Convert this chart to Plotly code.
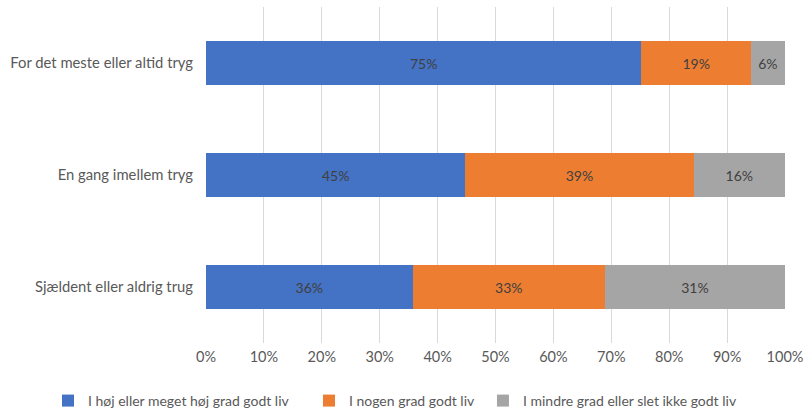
import plotly.graph_objects as go

# ---------------------------------------------------------------------------
# Data
# ---------------------------------------------------------------------------
categories = [
    "For det meste eller altid tryg",
    "En gang imellem tryg",
    "Sjældent eller aldrig trug",
]
series_names = [
    "I høj eller meget høj grad godt liv",
    "I nogen grad godt liv",
    "I mindre grad eller slet ikke godt liv",
]
high = [75.2, 44.8, 35.7]
some = [18.9, 39.4, 33.2]
low = [5.9, 15.8, 31.1]
tick_vals = [0, 10, 20, 30, 40, 50, 60, 70, 80, 90, 100]
tick_text = [f"{v}%" for v in tick_vals]

_COLORS = ["#4472C4", "#ED7D31", "#A5A5A5"]
_TEXT = "#404040"
_AXIS_TEXT = "#595959"
_GRID = "#D9D9D9"
_FONT = "Lato, Liberation Sans, sans-serif"

# one legend per series so the row can be wider than the plot area
_LEGENDS = ["legend", "legend2", "legend3"]
_LEGEND_X = [0.0597, 0.3843, 0.6007]

fig = go.Figure()
for name, vals, col, lg in zip(series_names, [high, some, low], _COLORS, _LEGENDS):
    fig.add_trace(
        go.Bar(
            y=categories,
            x=vals,
            name=name,
            orientation="h",
            legend=lg,
            showlegend=True,
            marker=dict(color=col, line=dict(width=0)),
            text=[f"{round(v)}%" for v in vals],
            textposition="inside",
            insidetextanchor="middle",
            textfont=dict(size=14, color=_TEXT, family=_FONT),
        )
    )

legend_style = dict(
    orientation="h",
    xref="container",
    yref="container",
    xanchor="left",
    y=0.0172,
    yanchor="middle",
    font=dict(size=14, color=_AXIS_TEXT),
    itemwidth=30,
    bgcolor="rgba(0,0,0,0)",
)

fig.update_layout(
    barmode="stack",
    bargap=0.607,
    width=804,
    height=408,
    showlegend=True,
    paper_bgcolor="white",
    plot_bgcolor="white",
    font=dict(family=_FONT, color=_AXIS_TEXT, size=14),
    margin=dict(l=206, r=19, t=7, b=65),
    xaxis=dict(
        range=[0, 100],
        tickvals=tick_vals,
        ticktext=tick_text,
        showgrid=True,
        gridcolor=_GRID,
        gridwidth=1,
        zeroline=False,
        showline=False,
        tickfont=dict(size=14.5, color=_AXIS_TEXT),
        ticks="",
        ticklabelstandoff=3,
        automargin=False,
    ),
    yaxis=dict(
        autorange="reversed",
        showgrid=False,
        ticks="",
        ticklabelstandoff=12,
        tickfont=dict(size=14.8, color=_AXIS_TEXT),
        automargin=False,
    ),
    legend=dict(x=_LEGEND_X[0], **legend_style),
    legend2=dict(x=_LEGEND_X[1], **legend_style),
    legend3=dict(x=_LEGEND_X[2], **legend_style),
    uniformtext=dict(minsize=8, mode="show"),
)

fig.write_html(
    "out.html",
    config={"displayModeBar": False},
    post_script="document.body.style.margin='0';",
)
